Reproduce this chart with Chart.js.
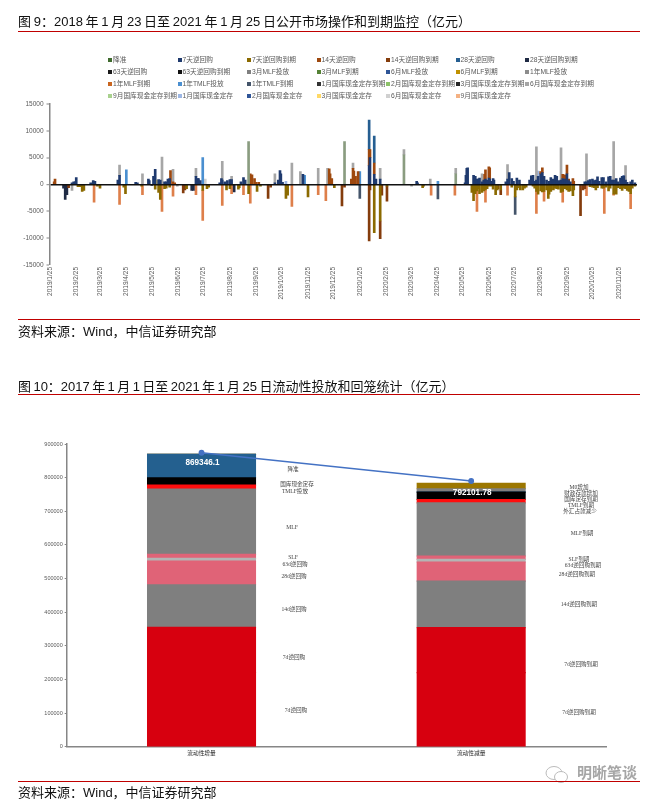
<!DOCTYPE html>
<html lang="zh">
<head>
<meta charset="utf-8">
<title>公开市场操作和流动性统计</title>
<script src="https://cdn.jsdelivr.net/npm/chart.js@4/dist/chart.umd.min.js"></script>
<style>
html,body{margin:0;padding:0;background:#fff;}
#page{position:relative;width:658px;height:803px;overflow:hidden;font-family:"Liberation Sans","Noto Sans CJK SC",sans-serif;color:#111;filter:blur(.3px);}
.abs{position:absolute;white-space:nowrap;}
.head{left:18px;font-size:13px;line-height:16px;}
.rule{position:absolute;left:18px;width:622px;height:1.5px;background:#C00000;}
canvas{position:absolute;left:0;}
.lg{position:absolute;font-size:6.7px;line-height:10px;color:#595959;white-space:nowrap;}
.lg i{display:inline-block;width:4px;height:4px;margin-right:1px;vertical-align:0.5px;}
.note{position:absolute;transform:translate(-50%,-50%);font:5.6px "Liberation Serif","Noto Sans CJK SC",serif;color:#444;white-space:nowrap;}
</style>
</head>
<body>
<div id="page">
  <div class="abs head" style="top:14px;word-spacing:-0.9px">图 9：2018 年 1 月 23 日至 2021 年 1 月 25 日公开市场操作和到期监控（亿元）</div>
  <div class="rule" style="top:30.5px"></div>
  <canvas id="top" width="658" height="210" style="top:97px"></canvas>
  <div id="legend"></div>
  <div class="rule" style="top:318.5px"></div>
  <div class="abs head" style="top:324px">资料来源：Wind，中信证券研究部</div>
  <div class="abs head" style="top:379px;word-spacing:-1.2px">图 10：2017 年 1 月 1 日至 2021 年 1 月 25 日流动性投放和回笼统计（亿元）</div>
  <div class="rule" style="top:393.5px"></div>
  <canvas id="bottom" width="658" height="340" style="top:430px"></canvas>
  <div id="notes"></div>
  <svg class="abs" style="left:544px;top:765px" width="26" height="20" viewBox="0 0 26 20">
    <ellipse cx="10" cy="8" rx="8" ry="6.5" fill="none" stroke="#bbb"/>
    <ellipse cx="17" cy="12" rx="6.5" ry="5.5" fill="#fff" stroke="#bbb"/>
  </svg>
  <div class="abs" style="left:577px;top:764px;font-size:15px;line-height:18px;font-weight:bold;color:#a6a6a6;">明晰笔谈</div>
  <div class="rule" style="top:780.5px"></div>
  <div class="abs head" style="top:785px">资料来源：Wind，中信证券研究部</div>
</div>
<script>
/* ---------- Figure 9: [day index since 2019/1/25, value in 100m yuan] ---------- */
const monthTicks = ["2019/1/25","2019/2/25","2019/3/25","2019/4/25","2019/5/25","2019/6/25","2019/7/25","2019/8/25","2019/9/25","2019/10/25","2019/11/25","2019/12/25","2020/1/25","2020/2/25","2020/3/25","2020/4/25","2020/5/25","2020/6/25","2020/7/25","2020/8/25","2020/9/25","2020/10/25","2020/11/25"];
const yTicksTop = [15000,10000,5000,0,-5000,-10000,-15000];

const reserveCut = [[234,8000],[347,8000],[417,5500],[478,2000]];
const rr7 = [[26,300],[28,500],[30,500],[31,1300],[48,300],[51,700],[53,600],[80,800],[82,1700],[101,400],[103,300],[116,1000],[117,700],[122,1500],[124,2800],[128,900],[130,800],[135,500],[137,500],[139,1000],[141,1100],[172,1500],[174,1100],[175,1100],[177,700],[200,300],[202,1100],[203,800],[206,500],[209,700],[212,900],[214,900],[225,500],[228,1300],[230,800],[265,300],[269,800],[271,2600],[272,2000],[274,400],[298,1900],[376,3500],[377,5000],[382,1900],[384,1000],[389,1000],[432,600],[433,300],[489,300],[490,1700],[491,3000],[492,3100],[499,1700],[501,1500],[503,1000],[505,1000],[506,1200],[509,500],[511,800],[513,1000],[515,800],[517,1200],[518,1000],[520,600],[522,1100],[523,800],[537,500],[539,1000],[541,2200],[544,1100],[546,600],[550,1200],[553,800],[565,800],[567,1600],[569,1700],[571,600],[573,800],[575,1500],[578,2000],[580,2200],[582,1500],[585,800],[588,600],[590,1300],[592,900],[593,1000],[595,1700],[597,1500],[600,700],[602,800],[604,1100],[607,1000],[609,2000],[611,700],[613,500],[630,500],[632,500],[634,700],[636,900],[639,1000],[641,700],[643,800],[645,1400],[647,600],[650,1300],[652,1300],[655,500],[658,1400],[660,1500],[662,800],[664,800],[667,1100],[669,500],[672,1200],[674,1500],[676,1600],[678,800],[680,400],[684,500],[686,800],[689,300]];
const rr7Mat = [[33,-400],[35,-400],[38,-1300],[40,-1100],[56,-300],[59,-700],[87,-500],[89,-1700],[108,-300],[124,-900],[128,-1500],[130,-2800],[135,-800],[137,-700],[141,-500],[161,-800],[180,-1100],[185,-800],[187,-500],[208,-1000],[212,-800],[222,-900],[223,-600],[234,-1700],[244,-1300],[248,-300],[278,-2600],[280,-2000],[304,-2300],[335,-600],[382,-9000],[389,-6800],[397,-300],[439,-600],[440,-300],[497,-1500],[499,-3000],[501,-1700],[503,-1200],[505,-800],[506,-1700],[509,-1500],[511,-1200],[513,-1000],[515,-800],[517,-300],[520,-300],[522,-900],[525,-1900],[527,-1000],[531,-1000],[544,-500],[548,-2300],[550,-1000],[553,-600],[554,-1000],[557,-1000],[559,-700],[561,-500],[569,-300],[571,-700],[573,-1300],[575,-1800],[578,-1200],[580,-1400],[582,-1300],[585,-1000],[587,-2600],[588,-1800],[590,-1300],[593,-1000],[595,-700],[597,-800],[599,-900],[602,-1500],[604,-1300],[607,-800],[609,-1000],[611,-1300],[613,-1200],[616,-2100],[617,-1000],[636,-400],[639,-500],[641,-600],[643,-1000],[645,-600],[650,-700],[652,-700],[655,-500],[658,-1200],[660,-700],[664,-1800],[667,-1800],[669,-600],[672,-800],[674,-1100],[676,-700],[678,-800],[680,-1100],[682,-1300],[684,-1700],[686,-700],[689,-300]];
const rr14 = [[5,500],[6,1000],[142,2600],[145,500],[147,300],[236,2000],[238,1800],[241,1100],[243,400],[246,400],[329,2900],[330,2000],[332,1100],[355,1000],[357,3000],[358,2500],[360,1500],[363,2400],[376,3000],[377,1500],[382,2100],[512,1900],[513,1700],[517,2100],[518,2100],[578,400],[580,900],[604,800],[607,800],[609,1600],[611,300],[616,1100],[617,600]];
const rr14Mat = [[22,-600],[157,-1600],[159,-1000],[257,-2600],[260,-500],[344,-4000],[347,-500],[376,-10500],[377,-1000],[389,-3300],[391,-2000],[397,-2800],[528,-800],[531,-900],[625,-5800],[628,-1000],[630,-800]];
const rr28 = [[376,5500],[382,5000]];
const rr28Mat = [[16,-700],[18,-2800],[20,-1900],[120,-200],[167,-1100],[169,-1100],[217,-1400]];
const rr63 = [];
const rr63Mat = [];
const mlf3m = [];
const mlf3mMat = [];
const mlf6m = [];
const mlf6mMat = [];
const mlf1y = [[82,1900],[109,2000],[132,5100],[145,2300],[172,1500],[203,3500],[214,600],[265,1700],[285,4000],[295,2400],[316,3000],[327,3000],[357,1000],[389,2000],[417,1000],[448,1000],[478,1000],[509,1500],[539,2700],[573,6200],[602,6000],[632,5200],[664,7200],[678,2700]];
const mlf1yMat = [[52,-3300],[82,-3700],[109,-1900],[132,-5000],[145,-2200],[172,-1900],[180,-5600],[203,-3900],[214,-1700],[228,-1900],[236,-3500],[285,-4100],[316,-1900],[325,-3000],[449,-2000],[477,-2000],[503,-3800],[513,-2300],[539,-2000],[573,-4100],[582,-1800],[604,-2000],[632,-2100],[653,-5400],[664,-200],[684,-2800]];
const tmlf = [[90,2700],[180,5000],[300,1700],[365,2400],[457,600]];
const tmlfMat = [[365,-2600],[457,-2700],[548,-3300]];
const depo1mMat = [];
const depo2mMat = [];
const depo3mMat = [];
const depo6mMat = [[26,-1100],[150,-300],[426,-300]];
const depo9mMat = [];
const depo1m = [[278,600],[575,1000],[676,100]];
const depo2m = [];
const depo3m = [[126,800]];
const depo6m = [[183,1000]];
const depo9m = [];

/* name, points, legend swatch colour, bar colour (when thin bars read lighter than the swatch) */
const topSeries = [
  ["降准", reserveCut, "#3F6B2E", "#8A9C80"],
  ["7天逆回购", rr7, "#1F3A6E"],
  ["7天逆回购到期", rr7Mat, "#8B6A00"],
  ["14天逆回购", rr14, "#9E480E"],
  ["14天逆回购到期", rr14Mat, "#843C0C"],
  ["28天逆回购", rr28, "#255E91"],
  ["28天逆回购到期", rr28Mat, "#1F2A44"],
  ["63天逆回购", rr63, "#1A1A1A"],
  ["63天逆回购到期", rr63Mat, "#111111"],
  ["3月MLF投放", mlf3m, "#7F7F7F"],
  ["3月MLF到期", mlf3mMat, "#548235"],
  ["6月MLF投放", mlf6m, "#2F5597"],
  ["6月MLF到期", mlf6mMat, "#BF9000"],
  ["1年MLF投放", mlf1y, "#8C8C8C", "#A6A6A6"],
  ["1年MLF到期", mlf1yMat, "#C9651F", "#DE7F4A"],
  ["1年TMLF投放", tmlf, "#4A8FD0"],
  ["1年TMLF到期", tmlfMat, "#44546A"],
  ["1月国库现金定存到期", depo1mMat, "#333333"],
  ["2月国库现金定存到期", depo2mMat, "#8CC168"],
  ["3月国库现金定存到期", depo3mMat, "#262626"],
  ["6月国库现金定存到期", depo6mMat, "#A5A5A5"],
  ["9月国库现金定存到期", depo9mMat, "#A9D18E"],
  ["1月国库现金定存", depo1m, "#9DB7E4"],
  ["2月国库现金定存", depo2m, "#2F5597"],
  ["3月国库现金定存", depo3m, "#FFD966"],
  ["6月国库现金定存", depo6m, "#D0D0D0"],
  ["9月国库现金定存", depo9m, "#F4B183"]
];

/* ---------- Figure 10 ---------- */
const flowCategories = ["流动性增量","流动性减量"];
const flowTotals = ["869346.1","792101.78"];
const flowLine = [874000,790000];
const flow7dA = [220000,220000];
const flow7dB = [135000,134000];
const flow14d = [126000,138500];
const flow28d = [71000,56500];
const flow63d = [8000,8000];
const flowSLF = [12000,10000];
const flowMLF = [194000,158000];
const flowTMLF = [12000,10000];
const flowDepo = [21000,22000];
const flowRRR = [70346,0];
const flowFiscal = [0,10000];
const flowM0 = [0,16000];
const yTicksBottom = [0,100000,200000,300000,400000,500000,600000,700000,800000,900000];
const leftNotes = [["降准",293,469],["国库现金定存",297,484],["TMLF投放",295,491],["MLF",292,527],["SLF",293,557],["63d逆回购",295,564],["28d逆回购",294,576],["14d逆回购",294,609],["7d逆回购",294,657],["7d逆回购",296,710]];
const rightNotes = [["M0增加",579,487],["财政存款增加",581,493],["国库定存到期",581,499],["TMLF到期",581,505],["外汇占款减少",580,511],["MLF到期",582,533],["SLF到期",579,559],["63d逆回购到期",583,565],["28d逆回购到期",577,574],["14d逆回购到期",579,604],["7d逆回购到期",581,664],["7d逆回购到期",579,712]];

/* ---------- build ---------- */
const DAY_COUNT = 692;
const dayLabels = [];
for (let i = 0; i < DAY_COUNT; i++) {
  const d = new Date(Date.UTC(2019, 0, 25 + i));
  dayLabels.push(d.getUTCFullYear() + "/" + (d.getUTCMonth() + 1) + "/" + d.getUTCDate());
}
Chart.defaults.animation = false;
Chart.defaults.responsive = false;
Chart.defaults.font.family = '"Liberation Sans","Noto Sans CJK SC",sans-serif';

const topChart = new Chart(document.getElementById("top"), {
  type: "bar",
  data: {
    labels: dayLabels,
    datasets: topSeries.map(([label, pts, swatch, bar]) => ({
      label,
      swatch,
      data: pts.map(([x, y]) => ({ x: dayLabels[x], y })),
      backgroundColor: bar || swatch,
      stack: "flows",
      barThickness: 2
    }))
  },
  options: {
    layout: { padding: { top: 6, right: 21, bottom: 0, left: 0 } },
    plugins: { legend: { display: false }, tooltip: { enabled: false } },
    scales: {
      x: {
        type: "category", stacked: true,
        border: { display: false },
        grid: { display: false, drawTicks: false },
        afterBuildTicks: s => { s.ticks = s.ticks.filter(t => monthTicks.includes(dayLabels[t.value])); },
        afterFit: s => { s.height = 42; },
        ticks: { autoSkip: false, maxRotation: 90, minRotation: 90, padding: 2, color: "#595959", font: { size: 6.5 } }
      },
      y: {
        stacked: true, min: -15000, max: 15000,
        afterFit: s => { s.width = 49.5; },
        afterBuildTicks: s => { s.ticks = yTicksTop.map(value => ({ value })); },
        border: { color: "#868686", width: 1.5, z: 2 },
        grid: { z: 1, lineWidth: c => (c.tick && c.tick.value === 0) ? 1.4 : 0, color: "#111", tickColor: "#868686", tickLength: 3, tickWidth: 1 },
        ticks: { color: "#595959", padding: 3, font: { size: 6.5 }, callback: v => String(v) }
      }
    }
  }
});

const barSeries = [
  ["7d逆回购", flow7dA, "#D7000F"],
  ["7d逆回购(2)", flow7dB, "#D7000F"],
  ["14d逆回购", flow14d, "#7F7F7F"],
  ["28d逆回购", flow28d, "#E06377"],
  ["63d逆回购", flow63d, "#B4B4B4"],
  ["SLF", flowSLF, "#E06377"],
  ["MLF", flowMLF, "#7F7F7F"],
  ["TMLF", flowTMLF, "#FF0D0D"],
  ["国库现金定存", flowDepo, "#000000"],
  ["降准", flowRRR, "#24608F"],
  ["财政存款增加", flowFiscal, "#7F7F7F"],
  ["M0增加", flowM0, "#9C7700"]
];
const totalLabels = {
  id: "totalLabels",
  afterDatasetsDraw(chart) {
    const pts = chart.getDatasetMeta(chart.data.datasets.length - 1).data;
    const { ctx } = chart;
    const off = [10, 11.7];
    ctx.save();
    ctx.fillStyle = "#fff";
    ctx.font = 'bold 8.2px "Liberation Sans"';
    ctx.textAlign = "center";
    ctx.textBaseline = "middle";
    pts.forEach((p, i) => ctx.fillText(flowTotals[i], p.x + 1, p.y + off[i]));
    ctx.restore();
  }
};
const bottomChart = new Chart(document.getElementById("bottom"), {
  data: {
    labels: flowCategories,
    datasets: barSeries.map(([label, data, color]) => ({
      type: "bar", label, data, backgroundColor: color, borderWidth: 0, inflateAmount: 0.6,
      stack: "flow", barPercentage: 1, categoryPercentage: 0.4, order: 2
    })).concat([{
      type: "line", label: "合计", data: flowLine, stack: "total",
      borderColor: "#4472C4", backgroundColor: "#4472C4", borderWidth: 1.5,
      pointRadius: 2.2, order: 1
    }])
  },
  options: {
    layout: { padding: { top: 14, right: 52, bottom: 0, left: 0 } },
    plugins: { legend: { display: false }, tooltip: { enabled: false } },
    scales: {
      x: {
        stacked: true,
        afterFit: s => { s.height = 23.3; },
        border: { color: "#868686", width: 1.5 },
        grid: { display: false, drawTicks: false },
        ticks: { color: "#222", padding: 3, font: { size: 5.7 } }
      },
      y: {
        stacked: true, min: 0, max: 900000,
        afterFit: s => { s.width = 66.7; },
        afterBuildTicks: s => { s.ticks = yTicksBottom.map(value => ({ value })); },
        border: { color: "#868686", width: 1.5 },
        grid: { drawOnChartArea: false, tickColor: "#868686", tickLength: 2 },
        ticks: { color: "#595959", padding: 2, font: { size: 5.5 }, callback: v => String(v) }
      }
    }
  },
  plugins: [totalLabels]
});

/* legend and side labels */
const lg = document.getElementById("legend");
topChart.data.datasets.forEach((ds, i) => {
  const e = document.createElement("div");
  e.className = "lg";
  e.style.left = (108 + (i % 7) * 69.5) + "px";
  e.style.top = (55 + Math.floor(i / 7) * 12) + "px";
  e.innerHTML = '<i style="background:' + ds.swatch + '"></i>' + ds.label;
  lg.appendChild(e);
});
const notes = document.getElementById("notes");
leftNotes.concat(rightNotes).forEach(([t, x, y]) => {
  const e = document.createElement("div");
  e.className = "note";
  e.style.left = x + "px";
  e.style.top = y + "px";
  e.textContent = t;
  notes.appendChild(e);
});
</script>
</body>
</html>
